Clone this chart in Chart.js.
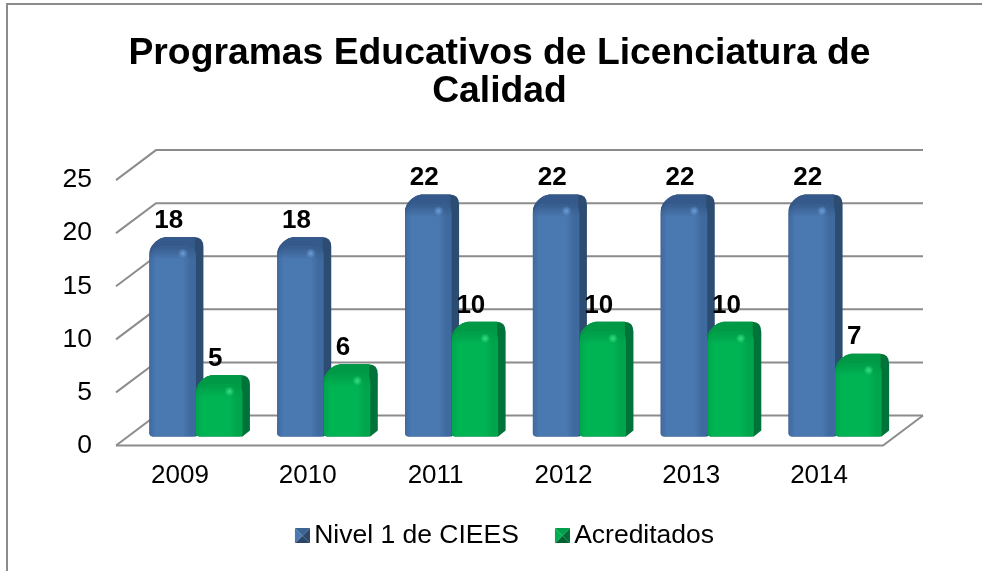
<!DOCTYPE html>
<html><head><meta charset="utf-8">
<style>html,body{margin:0;padding:0;background:#fff}canvas{display:block}</style>
<script src="https://cdn.jsdelivr.net/npm/chart.js@4"></script>
</head><body>
<canvas id="c" width="982" height="571"></canvas>
<script>
const categories = ['2009','2010','2011','2012','2013','2014'];
const nivel1 = [18,18,22,22,22,22];
const acreditados = [5,6,10,10,10,7];
const titleLines = ['Programas Educativos de Licenciatura de','Calidad'];
const FONT = '"Liberation Sans", Arial, sans-serif';
const PALETTE = [
  {edge:'#3f6a9f',mid:'#4a78b0',side:'#2c4c72',top:'#35598a',hi:'#6c9cd6',icon:['#3c6494','#2c4a70','#2a4568','#4a78b0']},
  {edge:'#00a54c',mid:'#00b454',side:'#00733a',top:'#009a46',hi:'#34e080',icon:['#00a04a','#006e36','#00632f','#00b050']}
];
function icon(c){
  const k=document.createElement('canvas');k.width=19;k.height=15;const x=k.getContext('2d');
  x.translate(4,0);
  const tri=(p,f)=>{x.fillStyle=f;x.beginPath();x.moveTo(p[0],p[1]);x.lineTo(p[2],p[3]);x.lineTo(7.5,7.5);x.closePath();x.fill();};
  tri([0,0,15,0],c[0]);tri([15,0,15,15],c[1]);tri([15,15,0,15],c[2]);tri([0,15,0,0],c[3]);
  return k;
}
const BAR_DX=16,BAR_DY=-9,EX=7.5,EY=8.5;
function bar3d(ctx,el,p){
  const w=el.width,x0=el.x-w/2+BAR_DX,x1=x0+w,t=el.y+BAR_DY,b=el.base+BAR_DY;
  ctx.beginPath();
  ctx.moveTo(x0,b-3);
  ctx.lineTo(x0,t+8);
  ctx.bezierCurveTo(x0,t+1,x0+8,t-EY,x0+18,t-EY);
  ctx.lineTo(x1+EX-9,t-EY);
  ctx.quadraticCurveTo(x1+EX,t-EY,x1+EX,t-EY+10);
  ctx.lineTo(x1+EX,b-6);
  ctx.lineTo(x1,b);
  ctx.lineTo(x0+3,b);
  ctx.closePath();
  ctx.fillStyle=p.side;ctx.fill();
  ctx.save();ctx.clip();
  ctx.fillStyle=p.top;ctx.fillRect(x0,t-EY-1,x1-x0-1,EY+10);
  ctx.restore();
  ctx.beginPath();
  ctx.moveTo(x0,b-3);
  ctx.quadraticCurveTo(x0,b,x0+3,b);
  ctx.lineTo(x1-3,b);
  ctx.quadraticCurveTo(x1,b,x1,b-3);
  ctx.lineTo(x1,t+10);
  ctx.quadraticCurveTo(x1,t+1,x1-10,t+1);
  ctx.lineTo(x0+14,t+1);
  ctx.quadraticCurveTo(x0+2,t+1,x0,t+10);
  ctx.closePath();
  const g=ctx.createLinearGradient(x0,0,x1,0);
  g.addColorStop(0,p.edge);g.addColorStop(.14,p.mid);g.addColorStop(.72,p.mid);g.addColorStop(.88,p.edge);g.addColorStop(1,p.edge);
  ctx.fillStyle=g;ctx.fill();
  ctx.save();ctx.clip();
  const v=ctx.createLinearGradient(0,t,0,t+14);
  v.addColorStop(0,p.top);v.addColorStop(1,p.top+'00');
  ctx.fillStyle=v;ctx.fillRect(x0,t,w,14);
  ctx.restore();
  const hx=x1-13,hy=t+8;
  const rg=ctx.createRadialGradient(hx,hy,0,hx,hy,5);
  rg.addColorStop(0,p.hi);rg.addColorStop(1,p.hi+'00');
  ctx.fillStyle=rg;ctx.fillRect(hx-5,hy-5,10,10);
}
const scene={
  id:'scene',
  beforeDraw(chart){
    const c=chart.ctx;c.save();
    c.strokeStyle='#8c8c8c';c.lineWidth=2;
    c.beginPath();c.moveTo(7,571);c.lineTo(7,4);c.lineTo(982,4);c.stroke();
    c.restore();
  },
  afterLayout(chart){
    const l=chart.legend,t=chart.titleBlock;
    l.left+=37.5;l.right+=37.5;l.top-=9;l.bottom-=9;
    t.left+=30;t.right+=30;
  },
  beforeDatasetsDraw(chart){
    const c=chart.ctx,a=chart.chartArea,ys=chart.scales.y;
    c.save();c.lineWidth=2;c.strokeStyle='#8c8c8c';
    ys.ticks.forEach(t=>{
      const y=ys.getPixelForValue(t.value);
      c.beginPath();c.moveTo(a.left,y);c.lineTo(a.left+40,y-30);c.lineTo(a.right+40,y-30);c.stroke();
    });
    const y0=ys.getPixelForValue(0);
    c.beginPath();c.moveTo(a.left,y0);c.lineTo(a.right,y0);c.lineTo(a.right+40,y0-30);c.stroke();
    c.restore();
  },
  beforeDatasetDraw(){return false;},
  afterDatasetsDraw(chart){
    const c=chart.ctx;
    chart.data.datasets.forEach((d,i)=>{
      chart.getDatasetMeta(i).data.forEach(el=>bar3d(c,el,PALETTE[i]));
    });
    c.save();c.fillStyle='#000';c.font='bold 26px '+FONT;c.textAlign='center';c.textBaseline='middle';
    chart.data.datasets.forEach((d,i)=>{
      chart.getDatasetMeta(i).data.forEach((el,j)=>{
        c.fillText(String(d.data[j]),el.x+BAR_DX-4,el.y-34);
      });
    });
    c.restore();
  }
};
new Chart(document.getElementById('c'),{
  type:'bar',
  data:{labels:categories,datasets:[
    {label:'Nivel 1 de CIEES',data:nivel1,backgroundColor:PALETTE[0].mid,pointStyle:icon(PALETTE[0].icon)},
    {label:'Acreditados',data:acreditados,backgroundColor:PALETTE[1].mid,pointStyle:icon(PALETTE[1].icon)}
  ]},
  options:{
    responsive:false,animation:false,devicePixelRatio:1,
    categoryPercentage:.728,barPercentage:1,
    layout:{padding:{left:56,right:99,top:0,bottom:3}},
    plugins:{
      tooltip:{enabled:false},
      title:{display:true,text:titleLines,color:'#000',font:{family:FONT,size:37.3,weight:'bold',lineHeight:1.02},padding:{top:35,bottom:69}},
      legend:{position:'bottom',labels:{
        font:{family:FONT,size:26.5},color:'#000',usePointStyle:true,boxWidth:1,padding:41,
        generateLabels(chart){
          return Chart.defaults.plugins.legend.labels.generateLabels(chart).map((it,i)=>{it.pointStyle=chart.data.datasets[i].pointStyle;return it;});
        }
      }}
    },
    scales:{
      x:{afterFit(s){s.height=45;},grid:{display:false,drawTicks:false},border:{display:false},
        ticks:{font:{family:FONT,size:26},color:'#000',padding:15,maxRotation:0,autoSkip:false}},
      y:{min:0,max:25,afterFit(s){s.width=60;},grid:{display:false,drawTicks:false},border:{display:false},
        ticks:{stepSize:5,font:{family:FONT,size:26.5},color:'#000',padding:24}}
    }
  },
  plugins:[scene]
});
</script>
</body></html>
